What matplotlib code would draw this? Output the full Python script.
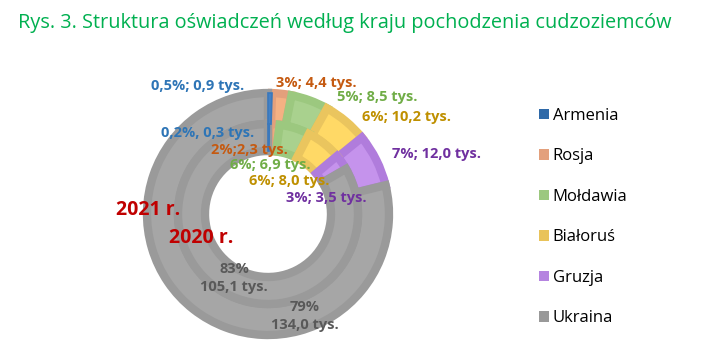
import matplotlib.pyplot as plt
from matplotlib.patches import Patch

# data (tys. oświadczeń)
countries = ['Armenia', 'Rosja', 'Mołdawia', 'Białoruś', 'Gruzja', 'Ukraina']
vals_2021 = [0.9, 4.4, 8.5, 10.2, 12.0, 134.0]
vals_2020 = [0.3, 2.3, 6.9, 8.0, 3.5, 105.1]
labels_2021 = ['0,5%; 0,9 tys.', '3%; 4,4 tys.', '5%; 8,5 tys.', '6%; 10,2 tys.',
               '7%; 12,0 tys.', '79%\n134,0 tys.']
labels_2020 = ['0,2%, 0,3 tys.', '2%;2,3 tys.', '6%; 6,9 tys.', '6%; 8,0 tys.',
               '3%; 3,5 tys.', '83%\n105,1 tys.']

face = ['#4281c6', '#f4b183', '#a9d18e', '#ffd966', '#c593ec', '#a6a6a6']
edge = ['#3a78bc', '#e3a07c', '#9cc87f', '#eac55e', '#b07cdc', '#9a9a9a']
legcol = ['#2e69a8', '#e3a07c', '#9cc87f', '#e9c35a', '#b584e0', '#999999']
txtcol = ['#2e75b6', '#c55a11', '#70ad47', '#bf9000', '#7030a0', '#595959']

plt.rcParams['font.family'] = ['Open Sans', 'DejaVu Sans']

W, H = 725, 364
fig = plt.figure(figsize=(W / 100, H / 100), dpi=100)
ax = fig.add_axes([0, 0, 1, 1])

cx, cy = 268, H - 214
R_out, R_mid, R_in = 121, 90, 63

w_out, _ = ax.pie(vals_2021, radius=R_out, center=(cx, cy), startangle=90,
                  counterclock=False, colors=face,
                  wedgeprops=dict(width=R_out - R_mid, linewidth=6))
w_in, _ = ax.pie(vals_2020, radius=R_mid, center=(cx, cy), startangle=90,
                 counterclock=False, colors=face,
                 wedgeprops=dict(width=R_mid - R_in, linewidth=6))
for ws in (w_out, w_in):
    for w, e in zip(ws, edge):
        w.set_edgecolor(e)
    # tiny Armenia slice: keep it visible on top of neighbours' borders
    ws[0].set_linewidth(1.2)
    ws[0].set_zorder(3)

ax.set_xlim(0, W)
ax.set_ylim(0, H)
ax.set_aspect('equal')
ax.axis('off')

# label positions (pixels from top-left)
pos_2021 = [(198, 86), (316, 83), (377, 97), (407, 117), (437, 154), (305, 316)]
pos_2020 = [(208, 133), (249, 150), (270, 165), (289, 181), (326, 198), (234, 278)]
for lab, (x, y), c in zip(labels_2021, pos_2021, txtcol):
    ax.text(x, H - y, lab, color=c, fontsize=10.5, fontweight='bold',
            ha='center', va='center', linespacing=1.4, zorder=5)
for lab, (x, y), c in zip(labels_2020, pos_2020, txtcol):
    ax.text(x, H - y, lab, color=c, fontsize=10.5, fontweight='bold',
            ha='center', va='center', linespacing=1.4, zorder=5)

ax.text(148, H - 210, '2021 r.', color='#c00000', fontsize=14, fontweight='bold',
        ha='center', va='center', zorder=5)
ax.text(201, H - 238, '2020 r.', color='#c00000', fontsize=14, fontweight='bold',
        ha='center', va='center', zorder=5)

fig.text(18 / W, 1 - 23 / H, 'Rys. 3. Struktura oświadczeń według kraju pochodzenia cudzoziemców',
         color='#00b050', fontsize=14.3, ha='left', va='center')

handles = [Patch(facecolor=c, edgecolor='none') for c in legcol]
fig.legend(handles, countries, loc='upper left', bbox_to_anchor=(524 / W, 1 - 93 / H),
           frameon=False, fontsize=12, handlelength=0.6, handleheight=0.6,
           handletextpad=0.22, labelspacing=1.47)

fig.savefig('out.png', dpi=100)
